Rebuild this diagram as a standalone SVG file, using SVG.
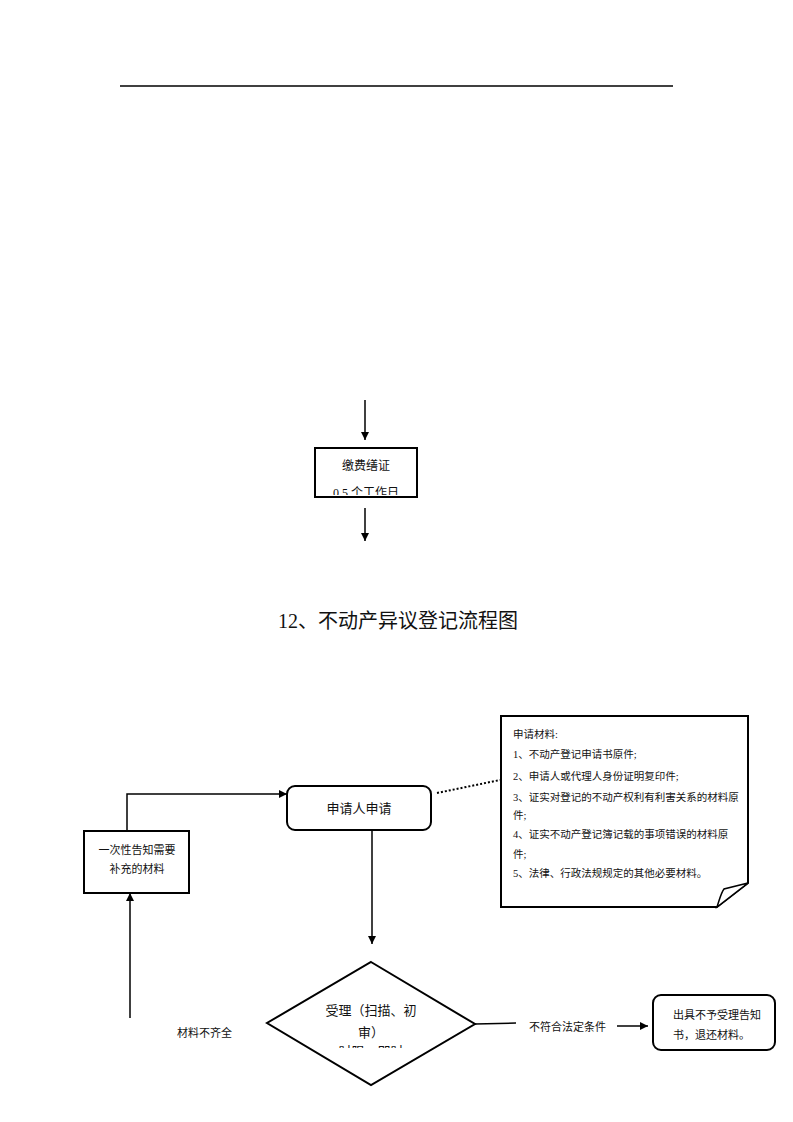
<svg xmlns="http://www.w3.org/2000/svg" width="793" height="1122" viewBox="0 0 793 1122">
<style>
text{font-family:"Liberation Serif","Noto Sans CJK SC",serif;fill:#111}
.s{fill:none;stroke:#000;stroke-width:1.5}
.b{fill:#fff;stroke:#000;stroke-width:2}
.t11{font-size:11px}
.t12{font-size:12px}
</style>
<defs>
<marker id="ah" viewBox="0 0 10 10" refX="10" refY="5" markerWidth="8" markerHeight="8" markerUnits="userSpaceOnUse" orient="auto"><path d="M0,0 L10,5 L0,10 z" fill="#000"/></marker>
<clipPath id="c1"><rect x="317" y="450" width="98" height="45"/></clipPath>
<clipPath id="c2"><rect x="300" y="1040" width="150" height="8"/></clipPath>
</defs>
<line x1="120" y1="86" x2="673" y2="86" stroke="#000" stroke-width="1.6"/>
<g id="connectors">
<line class="s" x1="365" y1="400" x2="365" y2="440" marker-end="url(#ah)"/>
<line class="s" x1="365" y1="508" x2="365" y2="541" marker-end="url(#ah)"/>
<path class="s" d="M127,831 V794 H287" marker-end="url(#ah)"/>
<line x1="437" y1="793" x2="500" y2="780" stroke="#000" stroke-width="2" stroke-dasharray="2,2"/>
<line class="s" x1="372" y1="822" x2="372" y2="944" marker-end="url(#ah)"/>
<line class="s" x1="130" y1="1018" x2="130" y2="893" marker-end="url(#ah)"/>
<line class="s" x1="475" y1="1024" x2="516" y2="1023"/>
<line class="s" x1="617" y1="1026" x2="648" y2="1026" marker-end="url(#ah)"/>
</g>
<g id="pay">
<rect class="b" x="315" y="448" width="102" height="49"/>
<text class="t12" x="366" y="470" text-anchor="middle">缴费缮证</text>
<text class="t12" x="366" y="497" text-anchor="middle" clip-path="url(#c1)">0.5 个工作日</text>
</g>
<text x="398" y="628" text-anchor="middle" font-size="20">12、不动产异议登记流程图</text>
<g id="materials">
<path class="b" d="M501,716 H748 V883 L717,907 H501 Z"/>
<path d="M717,907 C720,898 721,893 724,889 L748,883 Z" fill="#fff" stroke="#000" stroke-width="1.5"/>
<g font-size="10.5px">
<text x="513" y="738">申请材料:</text>
<text x="513" y="758">1、不动产登记申请书原件;</text>
<text x="513" y="780">2、申请人或代理人身份证明复印件;</text>
<text x="513" y="801">3、证实对登记的不动产权利有利害关系的材料原</text>
<text x="513" y="819">件;</text>
<text x="513" y="838">4、证实不动产登记簿记载的事项错误的材料原</text>
<text x="513" y="858">件;</text>
<text x="513" y="877">5、法律、行政法规规定的其他必要材料。</text>
</g>
</g>
<g id="apply">
<rect class="b" x="287" y="786" width="144" height="44" rx="8"/>
<text x="359" y="813" text-anchor="middle" font-size="13">申请人申请</text>
</g>
<g id="notify">
<rect class="b" x="84" y="831" width="105" height="62"/>
<text class="t11" x="137" y="854" text-anchor="middle">一次性告知需要</text>
<text class="t11" x="137" y="873" text-anchor="middle">补充的材料</text>
</g>
<g id="accept">
<path class="b" d="M371,962 L475,1024 L371,1085 L267,1023 Z"/>
<text x="371" y="1015" text-anchor="middle" font-size="13">受理（扫描、初</text>
<text x="371" y="1037" text-anchor="middle" font-size="13">审）</text>
<text x="371" y="1056" text-anchor="middle" font-size="13" clip-path="url(#c2)">时限：即时</text>
</g>
<text class="t11" x="177" y="1037">材料不齐全</text>
<text class="t11" x="529" y="1031">不符合法定条件</text>
<g id="reject">
<rect class="b" x="653" y="995" width="122" height="55" rx="8"/>
<text class="t11" x="673" y="1019">出具不予受理告知</text>
<text class="t11" x="673" y="1039">书，退还材料。</text>
</g>
</svg>
